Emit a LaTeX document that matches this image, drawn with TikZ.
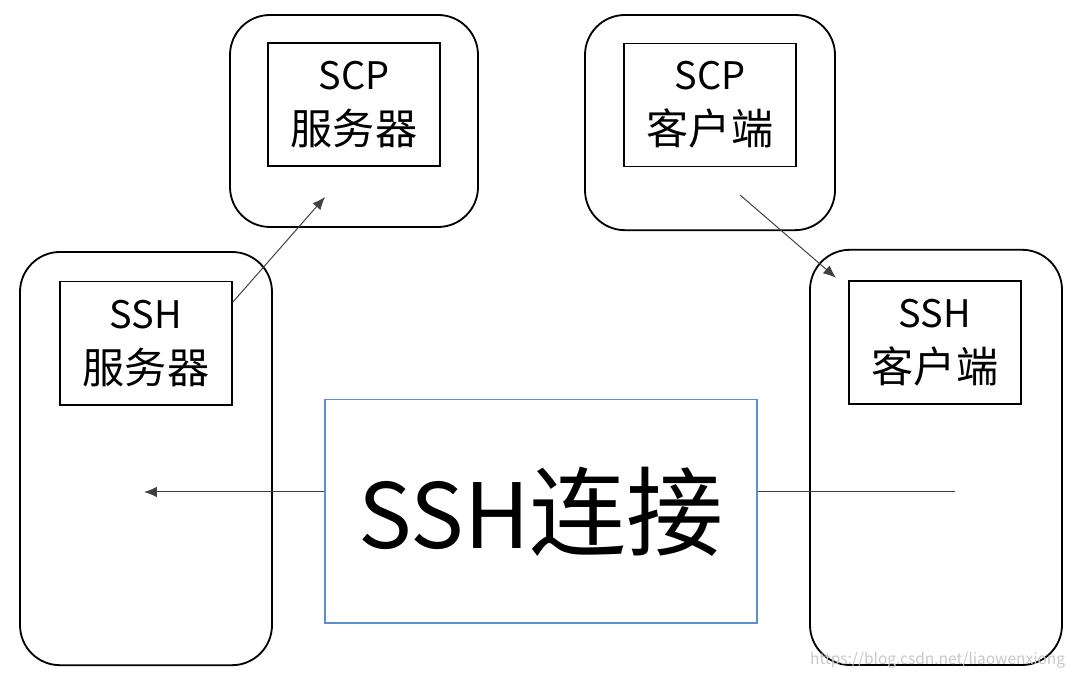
\documentclass[tikz,border=0pt]{standalone}
\usepackage{fontspec}
\setmainfont{Noto Sans CJK SC}
\usepackage{tikz}
\usetikzlibrary{arrows.meta, positioning, calc}
\definecolor{linkblue}{HTML}{5B8FD0}
\definecolor{wmgray}{HTML}{C8C8C8}
\newcommand{\cnline}[1]{{\fontsize{30}{39}\selectfont #1}}
\newcommand{\cnbig}[1]{{\fontsize{69}{80}\selectfont #1}}
\tikzset{
  hostbox/.style={draw=black, line width=1.3pt, rounded corners=1cm, fill=white},
  appbox/.style={draw=black, line width=1pt, minimum width=4.3cm, minimum height=3.08cm,
                 align=center, inner sep=0pt, font=\fontsize{27}{39}\selectfont},
  linkbox/.style={draw=linkblue, line width=1pt, minimum width=10.8cm, minimum height=5.58cm,
                  align=center, font=\fontsize{64}{80}\selectfont},
  arrow/.style={-{Latex[length=3.2mm,width=2.6mm]}, line width=0.7pt, draw=black!75},
  conn/.style={line width=0.7pt, draw=black!75}
}
\begin{document}
\begin{tikzpicture}
    \useasboundingbox (0,0) rectangle (26.95,16.925);

    \node[hostbox, minimum width=6.3cm, minimum height=10.33cm] (hostL) at (3.65,5.46) {};
    \node[hostbox, minimum width=6.3cm, minimum height=10.38cm] (hostR) at (23.4,5.49) {};
    \node[hostbox, minimum width=6.2cm, minimum height=5.3cm] (scpSrvHost) at (8.85,13.9) {};
    \node[hostbox, minimum width=6.25cm, minimum height=5.38cm] (scpCliHost) at (17.75,13.86) {};

    \node[appbox] (sshSrv) at (3.65,8.34) {SSH\\\cnline{服务器}};
    \node[appbox] (sshCli) at (23.375,8.36) {SSH\\\cnline{客户端}};
    \node[appbox] (scpSrv) at (8.85,14.31) {SCP\\\cnline{服务器}};
    \node[appbox] (scpCli) at (17.75,14.3) {SCP\\\cnline{客户端}};

    \node[linkbox] (link) at (13.525,4.14) {SSH\cnbig{连接}};

    \coordinate (srvTip) at (8.125,12.0);
    \coordinate (cliStart) at (18.5,12.05);
    \coordinate (cliTip) at (20.9,9.98);
    \coordinate (leftTip) at (3.6,4.625);
    \coordinate (rightEnd) at (23.875,4.625);

    \draw[arrow] ([yshift=-0.53cm]sshSrv.north east) -- (srvTip);
    \draw[arrow] (cliStart) -- (cliTip);
    \draw[arrow] (link.west |- leftTip) -- (leftTip);
    \draw[conn] (link.east |- rightEnd) -- (rightEnd);

    \node[text=wmgray, font=\fontsize{11}{13}\selectfont, anchor=east] (mark) at (26.75,0.43)
      {https://blog.csdn.net/liaowenxiong};
\end{tikzpicture}
\end{document}
